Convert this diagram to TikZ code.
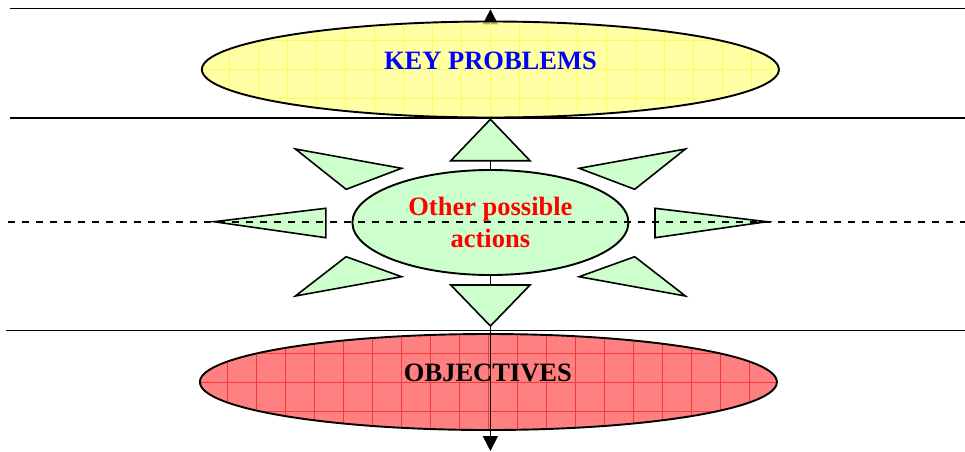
\documentclass[tikz,border=0pt]{standalone}
\usepackage{fontspec}
\setmainfont{Liberation Serif}
\usetikzlibrary{shapes.geometric,arrows.meta}

\definecolor{kpyellow}{RGB}{255,255,125}
\definecolor{kpgrid}{RGB}{252,252,95}
\definecolor{objred}{RGB}{255,128,128}
\definecolor{objgrid}{RGB}{242,60,60}
\definecolor{raygreen}{RGB}{204,255,204}
\definecolor{actred}{RGB}{255,0,0}
\definecolor{kpblue}{RGB}{0,0,255}

\begin{document}
\begin{tikzpicture}[x=1pt,y=-1pt,
  rule/.style={line width=1.9pt},
  bigoval/.style={ellipse, draw, line width=1.9pt, minimum width=577pt,
    minimum height=96pt, inner sep=0pt},
  bigtext/.style={font=\fontsize{26.5}{31}\selectfont\bfseries, inner sep=0pt, anchor=base},
  ray/.style={draw, fill=raygreen, line width=1.6pt, line join=miter},
  axis/.style={line width=1.6pt, -{Triangle[width=15pt,length=15pt]}},
  gridfill/.style={path picture={
      \draw[#1, line width=0.45pt, shift={(26.4,0)}]
        (path picture bounding box.south west) grid[step=29pt]
        (path picture bounding box.north east);}}
]
\useasboundingbox (0,0) rectangle (965,451);

% band rules
\draw[rule] (10,8.5) -- (965,8.5);
\draw[rule] (10,118.3) -- (965,118.3);
\draw[rule] (6,330.5) -- (965,330.5);

% coordinates of the vertical axis
\coordinate (uptip) at (490.4,9.3);
\coordinate (upapex) at (490.4,119.3);
\coordinate (upbase) at (490.4,160.7);
\coordinate (dnbase) at (490.4,285);
\coordinate (dnapex) at (490.4,326);
\coordinate (dntip) at (490.4,451);

% upward axis, seen through the key problems oval
\draw[axis] (upapex) -- (uptip);

% key problems oval
\node[bigoval, fill=kpyellow, fill opacity=0.7, gridfill=kpgrid] (kp) at (490.4,69.5) {};
\node[bigtext, text=kpblue] (kplabel) at (490.4,69) {KEY PROBLEMS};

% objectives oval
\node[bigoval, fill=objred, gridfill=objgrid] (obj) at (488.4,382) {};
\node[bigtext] (objlabel) at (487.9,381) {OBJECTIVES};

% downward axis
\draw[axis] (dnapex) -- (dntip);

% central oval
\node[ellipse, draw, line width=1.9pt, fill=raygreen, minimum width=276pt,
  minimum height=105pt, inner sep=0pt, align=center, text=actred,
  font=\fontsize{26.5}{32.7}\selectfont\bfseries] (opa) at (490.4,222.5)
  {Other possible\\actions};

% stems to the vertical rays
\draw[line width=1.6pt] (opa.north) -- (upbase);
\draw[line width=1.6pt] (opa.south) -- (dnbase);

% rays around the central oval
\draw[ray] (upapex) -- (530,160.7) -- (450.8,160.7) -- cycle;
\draw[ray] (dnapex) -- (530,285) -- (450.8,285) -- cycle;
\draw[ray] (214,221.7) -- (325.8,208.3) -- (325.8,237.7) -- cycle;
\draw[ray] (766.8,221.7) -- (655,208.3) -- (655,237.7) -- cycle;
\draw[ray] (295.4,149) -- (401.6,168.3) -- (346.1,189.3) -- cycle;
\draw[ray] (685.4,149) -- (579.2,168.3) -- (634.7,189.3) -- cycle;
\draw[ray] (295.4,296) -- (401.6,276.7) -- (346.1,256.7) -- cycle;
\draw[ray] (685.4,296) -- (579.2,276.7) -- (634.7,256.7) -- cycle;

% dashed centre line
\draw[line width=1.6pt, dash pattern=on 7pt off 7pt] (8,221.7) -- (965,221.7);
\end{tikzpicture}
\end{document}
